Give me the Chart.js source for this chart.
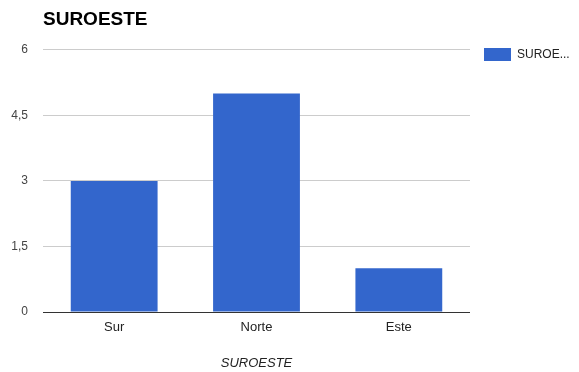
<html>
<head>
    <script src="https://cdn.jsdelivr.net/npm/chart.js@4/dist/chart.umd.min.js"></script>
    <style>
        html, body { margin: 0; padding: 0; background: #fff; }
        #chartcontainer { position: relative; width: 579px; height: 372px; }
    </style>
</head>
<body>
    <div id="chartcontainer">
        <canvas id="canvas"></canvas>
    </div>
    <script>
        var categories = ['Sur', 'Norte', 'Este'];
        var seriesName = 'SUROESTE';
        var seriesValues = [3, 5, 1];
        var yTicks = [0, 1.5, 3, 4.5, 6];

        var ctx = document.getElementById('canvas').getContext('2d');

        var config = {
            type: 'bar',
            data: {
                labels: categories,
                datasets: [{
                    label: seriesName,
                    data: seriesValues,
                    backgroundColor: '#3366cc',
                    borderWidth: 0,
                    barPercentage: 0.61,
                    categoryPercentage: 1
                }]
            },
            options: {
                responsive: true,
                maintainAspectRatio: false,
                animation: false,
                plugins: {
                    tooltip: { enabled: false },
                    title: {
                        display: true,
                        text: seriesName,
                        align: 'start',
                        fullSize: false,
                        color: '#000',
                        font: { family: 'Arial, "Liberation Sans"', size: 19, weight: 'bold' },
                        padding: { top: 8, bottom: 19 }
                    },
                    legend: {
                        position: 'right',
                        align: 'start',
                        maxWidth: 109,
                        title: { display: true, text: '', font: { size: 10 }, padding: { top: 22, bottom: 0 } },
                        labels: {
                            boxWidth: 27,
                            boxHeight: 13,
                            padding: 14,
                            color: '#222',
                            font: { family: 'Arial, "Liberation Sans"', size: 12 },
                            generateLabels: function (chart) {
                                var items = Chart.defaults.plugins.legend.labels.generateLabels(chart);
                                items.forEach(function (it) {
                                    // long series names get cut like the original legend
                                    if (it.text.length > 5) it.text = it.text.slice(0, 5) + '...';
                                    it.lineWidth = 0;
                                });
                                return items;
                            }
                        }
                    }
                },
                scales: {
                    x: {
                        grid: { display: false },
                        border: { display: false },
                        ticks: {
                            color: '#222',
                            padding: 0,
                            font: { family: 'Arial, "Liberation Sans"', size: 13 }
                        },
                        title: {
                            display: true,
                            text: seriesName,
                            color: '#222',
                            font: { family: 'Arial, "Liberation Sans"', size: 13, style: 'italic' },
                            padding: { top: 4, bottom: 1 }
                        },
                        afterFit: function (scale) { scale.height = 60; }
                    },
                    y: {
                        min: 0,
                        max: 6,
                        afterBuildTicks: function (scale) {
                            scale.ticks = yTicks.map(function (v) { return { value: v }; });
                        },
                        grid: {
                            drawTicks: false,
                            color: function (c) { return c.tick && c.tick.value === 0 ? '#333' : '#cccccc'; }
                        },
                        border: { display: false },
                        ticks: {
                            color: '#444',
                            padding: 15,
                            font: { family: 'Arial, "Liberation Sans"', size: 12 },
                            callback: function (v) { return String(v).replace('.', ','); }
                        },
                        afterFit: function (scale) { scale.width = 43; }
                    }
                }
            }
        };

        var chart = new Chart(ctx, config);
    </script>
</body>
</html>
